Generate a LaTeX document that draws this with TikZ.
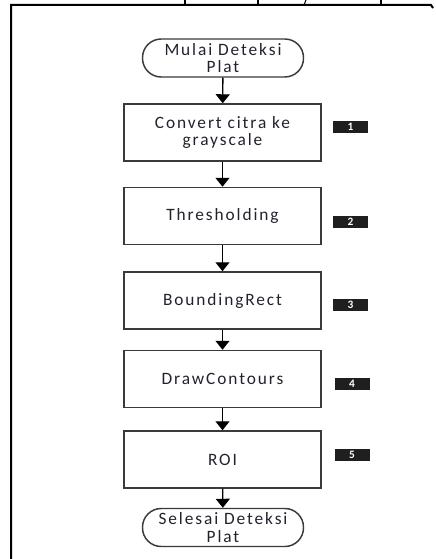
\documentclass[tikz,border=0pt]{standalone}
\usepackage{fontspec}
\setmainfont{Carlito}[LetterSpace=11]
\usetikzlibrary{arrows.meta}
\definecolor{ink}{HTML}{22222E}
\definecolor{edge}{HTML}{3A3A3A}
\tikzset{
  stepbox/.style={draw=edge, line width=1.1pt, fill=white, minimum width=147.75pt,
    minimum height=42.75pt, inner sep=0pt, align=center, text=ink,
    font=\fontsize{13}{13}\selectfont},
  terminal/.style={draw=edge, line width=1.1pt, fill=white, rounded corners=14pt,
    minimum width=120.75pt, minimum height=28.5pt, inner sep=0pt, align=center,
    text=ink, font=\fontsize{13}{13}\selectfont},
  badge/.style={fill=black!88, minimum width=26.25pt, minimum height=9pt, inner sep=0pt,
    text=white, font=\fontsize{8.5}{8.5}\selectfont\bfseries},
  flow/.style={draw=black, line width=1pt, -{Triangle[length=6.75pt,width=10.5pt]}},
  frame/.style={draw=black, line width=1.5pt}
}
\begin{document}
\begin{tikzpicture}[x=0.75pt,y=-0.75pt]
  \useasboundingbox (0,0) rectangle (435,559);
  % page frame
  \coordinate (fa) at (11,559);
  \coordinate (fb) at (11,5);
  \coordinate (fc) at (431,5);
  \coordinate (fd) at (433,8);
  \draw[frame] (fa) -- (fb) -- (fc) -- (fd);
  \foreach \tx in {185,258,381}{
    \draw[line width=1pt] (\tx,0) -- (\tx,5);
  }
  \draw[line width=0.8pt] (304,5) -- (306,0);

  % flow nodes
  \node[terminal] (start) at (223,58) {Mulai Deteksi\\Plat};
  \node[stepbox] (s1) at (222.5,132.5) {Convert citra ke\\grayscale};
  \node[stepbox] (s2) at (222.5,216) {Thresholding};
  \node[stepbox] (s3) at (222.5,300.5) {BoundingRect};
  \node[stepbox] (s4) at (222.5,379) {DrawContours};
  \node[stepbox] (s5) at (222.5,459.5) {ROI};
  \node[terminal] (stop) at (223,527.5) {Selesai Deteksi\\Plat};

  % step numbers
  \node[badge] (b1) at (350.5,127) {1};
  \node[badge] (b2) at (350.5,222) {2};
  \node[badge] (b3) at (350.5,304.5) {3};
  \node[badge] (b4) at (352,383.5) {4};
  \node[badge] (b5) at (352,454.5) {5};

  % connectors
  \draw[flow] (start) -- (s1);
  \draw[flow] (s1) -- (s2);
  \draw[flow] (s2) -- (s3);
  \draw[flow] (s3) -- (s4);
  \draw[flow] (s4) -- (s5);
  \draw[flow] (s5) -- (stop);
\end{tikzpicture}
\end{document}
